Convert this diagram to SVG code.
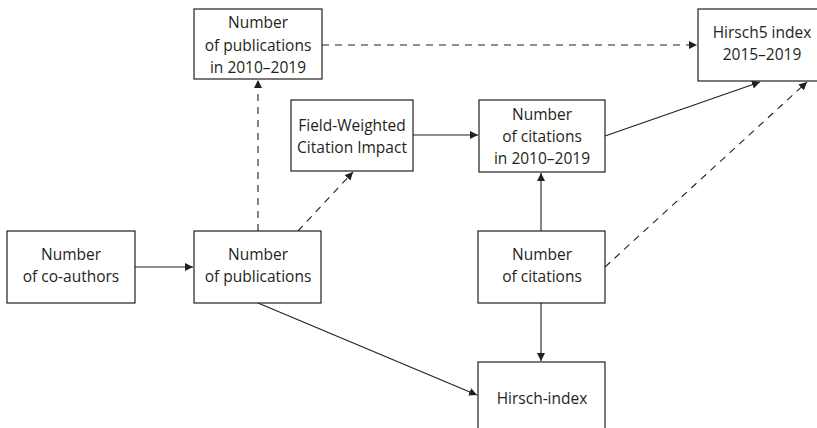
<svg xmlns="http://www.w3.org/2000/svg" width="817" height="428" viewBox="0 0 817 428">
<style>
.box{fill:#fff;stroke:#231f20;stroke-width:1.2}
.t{font-family:"Open Sans","Noto Sans",sans-serif;font-size:15.5px;fill:#231f20;text-anchor:middle}
.c{fill:none;stroke:#231f20;stroke-width:1.1}
.d{stroke-dasharray:7 6}
</style>
<defs>
<marker id="a" viewBox="0 0 10 10" refX="10" refY="5" markerWidth="8" markerHeight="8" markerUnits="userSpaceOnUse" orient="auto">
<path d="M0,0 L10,5 L0,10 z" fill="#231f20"/>
</marker>
</defs>
<g id="connectors">
<path class="c d" d="M322,45 L697,45" marker-end="url(#a)"/>
<path class="c d" d="M258,231 L258,80" marker-end="url(#a)"/>
<path class="c d" d="M298,231 L353,172" marker-end="url(#a)"/>
<path class="c" d="M413,135 L478,135" marker-end="url(#a)"/>
<path class="c" d="M605,136 L760,82" marker-end="url(#a)"/>
<path class="c d" d="M605,267 L807,82" marker-end="url(#a)"/>
<path class="c" d="M541,231 L541,173" marker-end="url(#a)"/>
<path class="c" d="M541,303 L541,361" marker-end="url(#a)"/>
<path class="c" d="M135,267 L193,267" marker-end="url(#a)"/>
<path class="c" d="M258,303 L477,395" marker-end="url(#a)"/>
</g>
<g id="pub2010">
<rect class="box" x="194" y="9" width="128" height="70"/>
<text class="t" x="258" y="28">Number</text>
<text class="t" x="258" y="51">of publications</text>
<text class="t" x="258" y="73">in 2010–2019</text>
</g>
<g id="hirsch5">
<rect class="box" x="698" y="9" width="128" height="72"/>
<text class="t" x="762" y="38">Hirsch5 index</text>
<text class="t" x="762" y="60">2015–2019</text>
</g>
<g id="fwci">
<rect class="box" x="291" y="100" width="122" height="71"/>
<text class="t" x="352" y="131">Field-Weighted</text>
<text class="t" x="352" y="153">Citation Impact</text>
</g>
<g id="cit2010">
<rect class="box" x="479" y="100" width="126" height="72"/>
<text class="t" x="542" y="120">Number</text>
<text class="t" x="542" y="142">of citations</text>
<text class="t" x="542" y="164">in 2010–2019</text>
</g>
<g id="coauthors">
<rect class="box" x="7" y="231" width="128" height="72"/>
<text class="t" x="71" y="260">Number</text>
<text class="t" x="71" y="282">of co-authors</text>
</g>
<g id="pubs">
<rect class="box" x="194" y="231" width="127" height="72"/>
<text class="t" x="258" y="260">Number</text>
<text class="t" x="258" y="282">of publications</text>
</g>
<g id="cits">
<rect class="box" x="478" y="231" width="127" height="72"/>
<text class="t" x="542" y="260">Number</text>
<text class="t" x="542" y="282">of citations</text>
</g>
<g id="hirsch">
<rect class="box" x="478" y="362" width="127" height="72"/>
<text class="t" x="542" y="404">Hirsch-index</text>
</g>
</svg>
